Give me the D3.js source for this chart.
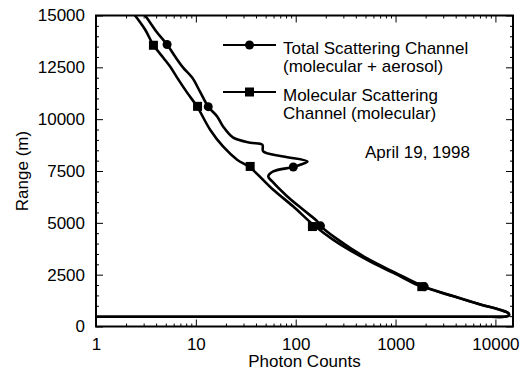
<!DOCTYPE html>
<html>
<head>
<meta charset="utf-8">
<script src="https://cdn.jsdelivr.net/npm/d3@7.9.0/dist/d3.min.js"></script>
<style>
  body { margin: 0; background: #fff; }
  svg { display: block; font-family: 'Liberation Sans', Arial, sans-serif; }
  .axis path { display: none; }
  .axis line { stroke: #000; stroke-width: 1; }
  .axis text { font-size: 17px; fill: #000; }
</style>
</head>
<body>
<svg id="chart" width="524" height="371"></svg>
<script>
// ====== Data (photon counts vs range) ======
const totalCounts = [3.1, 3.48, 4.09, 5.15, 6.2, 7.46, 9.18, 11.0, 13.3, 16.4, 18.8, 23.7, 35.1, 46.3, 47.3, 75.1, 131, 111, 94.6, 59.6, 53.1, 58.2, 82.4, 119, 165, 177, 250, 519, 990, 1936, 3700, 6700, 11300, 13500, 13700, 12800, 9000, 100, 0.5];
const totalRange = [15000, 14662, 14179, 13599, 13019, 12488, 12005, 11329, 10604, 10121, 9638, 9106, 8865, 8768, 8444, 8203, 7961, 7802, 7691, 7478, 7237, 6995, 6271, 5628, 5063, 4855, 4275, 3280, 2600, 1923, 1480, 1100, 797, 640, 545, 478, 470, 470, 470];

const molCounts = [2.46, 3.1, 3.73, 4.7, 5.52, 6.49, 8.18, 10.3, 13.9, 18.8, 25.9, 35.1, 59.6, 94.6, 150, 238, 519, 953, 1641, 1832, 3650, 6620, 11270, 13450, 13650, 12800, 9000, 100, 0.5];
const molRange = [15000, 14324, 13599, 12971, 12536, 12005, 11280, 10604, 9493, 8671, 8043, 7657, 6594, 5787, 4903, 4179, 3213, 2585, 2005, 1923, 1480, 1100, 797, 640, 545, 478, 470, 470, 470];

// marker positions
const totalMarkCounts = [5.15, 13.3, 94.6, 177, 1936];
const totalMarkRange = [13599, 10604, 7691, 4855, 1923];
const molMarkCounts = [3.76, 10.4, 35, 147, 1832];
const molMarkRange = [13565, 10618, 7720, 4821, 1923];

const xMajor = [1, 10, 100, 1000, 10000];
const yMajor = [0, 2500, 5000, 7500, 10000, 12500, 15000];

const legendLabels = [
  ['Total Scattering Channel', '(molecular + aerosol)'],
  ['Molecular Scattering', 'Channel (molecular)']
];
const dateLabel = 'April 19, 1998';

// ====== Setup ======
const svg = d3.select('#chart');
const pLeft = 96, pRight = 513, pTop = 15.5, pBottom = 326.5;

const x = d3.scaleLog().domain([1, 15000]).range([pLeft, pRight]);
const y = d3.scaleLinear().domain([0, 15000]).range([pBottom, pTop]);

// minor tick values
const xMinor = [];
for (let p = 0; p < 5; p++) {
  for (let k = 2; k <= 9; k++) {
    const v = k * Math.pow(10, p);
    if (v <= 15000) xMinor.push(v);
  }
}
const yMinor = d3.range(0, 15001, 500).filter((v) => v % 2500 !== 0);

// ====== Axes (ticks point inward) ======
function drawAxis(gen, tr, values, size, labels) {
  return svg.append('g').attr('class', 'axis').attr('transform', tr)
    .call(gen.tickValues(values).tickSizeInner(-size).tickSizeOuter(0)
      .tickFormat(labels ? d3.format('d') : ''));
}

drawAxis(d3.axisBottom(x), `translate(0,${pBottom})`, xMinor, 3, false);
drawAxis(d3.axisBottom(x), `translate(0,${pBottom})`, xMajor, 7, true)
  .selectAll('text').attr('y', 11).attr('dy', '0.71em');
drawAxis(d3.axisTop(x), `translate(0,${pTop})`, xMinor, 3, false);
drawAxis(d3.axisTop(x), `translate(0,${pTop})`, xMajor, 7, false);

drawAxis(d3.axisLeft(y), `translate(${pLeft},0)`, yMinor, 3, false);
drawAxis(d3.axisLeft(y), `translate(${pLeft},0)`, yMajor, 7, true)
  .selectAll('text').attr('x', -11);
drawAxis(d3.axisRight(y), `translate(${pRight},0)`, yMinor, 3, false);
drawAxis(d3.axisRight(y), `translate(${pRight},0)`, yMajor, 7, false);

// frame
svg.append('rect')
  .attr('x', pLeft).attr('y', pTop)
  .attr('width', pRight - pLeft).attr('height', pBottom - pTop)
  .attr('fill', 'none').attr('stroke', '#000').attr('stroke-width', 2);

// ====== Curves ======
svg.append('clipPath').attr('id', 'plot-clip')
  .append('rect')
  .attr('x', pLeft).attr('y', pTop)
  .attr('width', pRight - pLeft).attr('height', pBottom - pTop);

const line = d3.line()
  .x((d) => x(d[0])).y((d) => y(d[1]))
  .curve(d3.curveCatmullRom.alpha(0.5));
const plot = svg.append('g').attr('clip-path', 'url(#plot-clip)');

const series = [
  { counts: totalCounts, range: totalRange },
  { counts: molCounts, range: molRange }
];
series.forEach((s) => {
  plot.append('path')
    .attr('d', line(d3.zip(s.counts, s.range)))
    .attr('fill', 'none')
    .attr('stroke', '#000')
    .attr('stroke-width', 2.6)
    .attr('stroke-linejoin', 'round');
});

// markers
plot.selectAll('circle.mark')
  .data(d3.zip(totalMarkCounts, totalMarkRange))
  .join('circle')
  .attr('class', 'mark')
  .attr('cx', (d) => x(d[0])).attr('cy', (d) => y(d[1]))
  .attr('r', 4.5).attr('fill', '#000');

plot.selectAll('rect.mark')
  .data(d3.zip(molMarkCounts, molMarkRange))
  .join('rect')
  .attr('class', 'mark')
  .attr('x', (d) => x(d[0]) - 4.5).attr('y', (d) => y(d[1]) - 4.5)
  .attr('width', 9).attr('height', 9).attr('fill', '#000');

// ====== Legend ======
const legendY = [45, 92];
legendLabels.forEach((lines, i) => {
  const ly = legendY[i];
  svg.append('line')
    .attr('x1', 223).attr('x2', 276).attr('y1', ly).attr('y2', ly)
    .attr('stroke', '#000').attr('stroke-width', 2);
  if (i === 0) {
    svg.append('circle').attr('cx', 249.5).attr('cy', ly).attr('r', 4.5).attr('fill', '#000');
  } else {
    svg.append('rect').attr('x', 245).attr('y', ly - 4.5).attr('width', 9).attr('height', 9).attr('fill', '#000');
  }
  lines.forEach((t, j) => {
    svg.append('text')
      .attr('x', 283).attr('y', ly + 8.5 + j * 18.5)
      .attr('font-size', 17)
      .text(t);
  });
});

svg.append('text')
  .attr('x', 365).attr('y', 158)
  .attr('font-size', 17)
  .text(dateLabel);

// ====== Axis titles ======
svg.append('text')
  .attr('x', (pLeft + pRight) / 2).attr('y', 367)
  .attr('text-anchor', 'middle')
  .attr('font-size', 17)
  .text('Photon Counts');

svg.append('text')
  .attr('transform', `translate(27.5,${(pTop + pBottom) / 2}) rotate(-90)`)
  .attr('text-anchor', 'middle')
  .attr('font-size', 17)
  .text('Range (m)');
</script>
</body>
</html>
